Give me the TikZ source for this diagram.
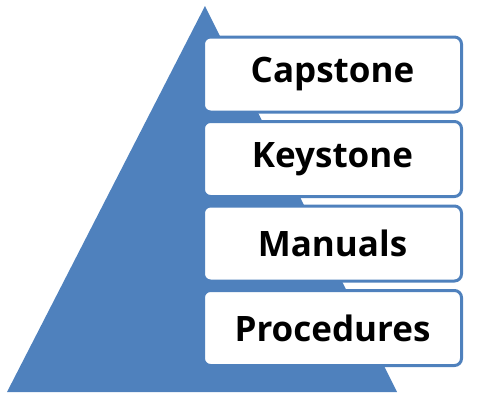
\documentclass[tikz,border=0pt]{standalone}
\usepackage{fontspec}
\setmainfont{Open Sans}
\definecolor{tri}{HTML}{4F81BD}
\begin{document}
\begin{tikzpicture}[x=1pt,y=-1pt,
  levelbox/.style={draw=tri,line width=3pt,fill=white,rounded corners=7pt,
    minimum width=258pt,minimum height=75pt,inner sep=0pt,
    font=\fontsize{35}{40}\selectfont\bfseries,text=black}]
\useasboundingbox (0,0) rectangle (481,400);
\fill[tri] (205,6) -- (397,392) -- (7,392) -- cycle;
\node[levelbox] (cap) at (332.5,74.5) {Capstone};
\node[levelbox] (key) at (332.5,159) {Keystone};
\node[levelbox] (man) at (332.5,243.5) {Manuals};
\node[levelbox] (pro) at (332.5,328) {Procedures};
\end{tikzpicture}
\end{document}
